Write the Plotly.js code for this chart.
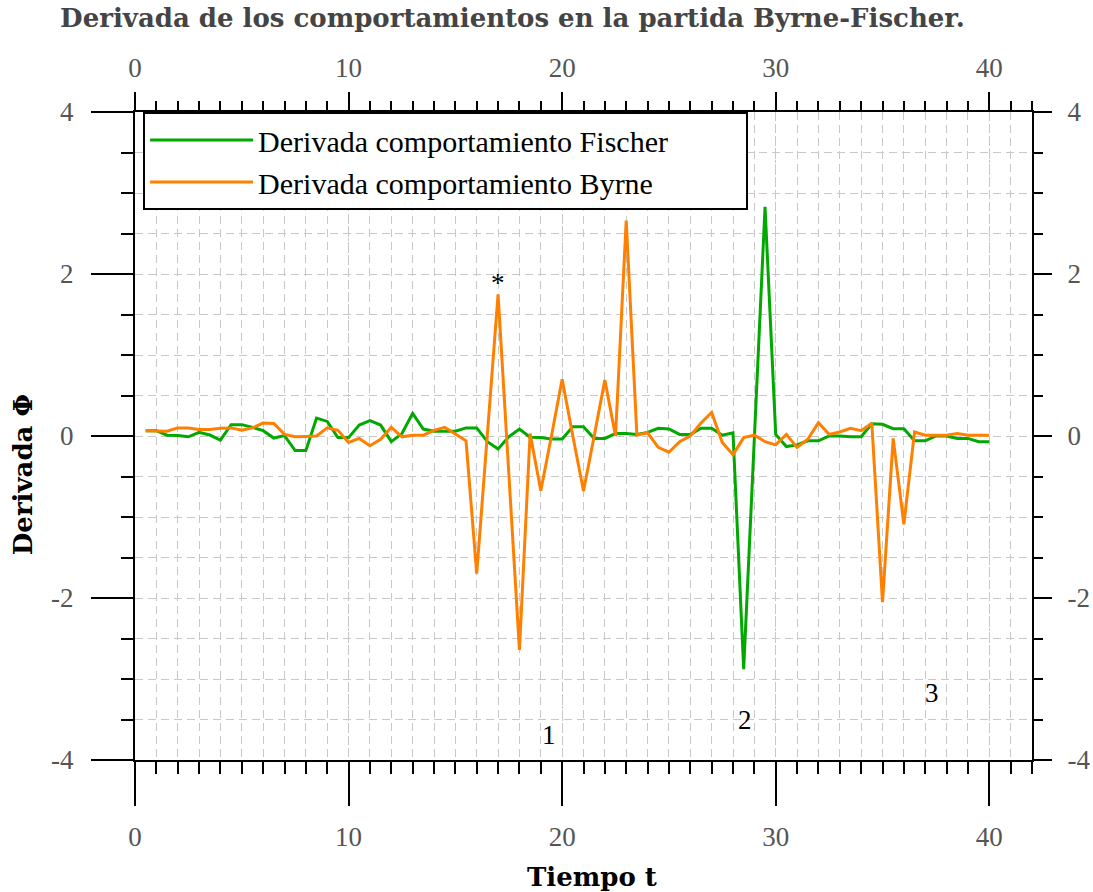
<!DOCTYPE html>
<html>
<head>
<meta charset="utf-8">
<script src="https://cdn.plot.ly/plotly-3.0.1.min.js"></script>
<style>
html,body{margin:0;padding:0;background:#fff;}
#chart{width:1093px;height:892px;}
</style>
</head>
<body>
<div id="chart"></div>
<script>
// Time (t) samples
const tiempo = [0.5,1,1.5,2,2.5,3,3.5,4,4.5,5,5.5,6,6.5,7,7.5,8,8.5,9,9.5,10,
  10.5,11,11.5,12,12.5,13,13.5,14,14.5,15,15.5,16,16.5,17,17.5,18,18.5,19,19.5,20,
  20.5,21,21.5,22,22.5,23,23.5,24,24.5,25,25.5,26,26.5,27,27.5,28,28.5,29,29.5,30,
  30.5,31,31.5,32,32.5,33,33.5,34,34.5,35,35.5,36,36.5,37,37.5,38,38.5,39,39.5,40];

const derivFischer = [0.066,0.066,0.01,0.005,-0.01,0.045,0.012,-0.05,0.14,0.14,
  0.107,0.066,-0.025,0.005,-0.18,-0.18,0.22,0.18,-0.02,-0.02,
  0.135,0.19,0.135,-0.07,0.03,0.28,0.086,0.06,0.06,0.06,
  0.1,0.1,-0.07,-0.16,-0.01,0.086,-0.016,-0.02,-0.037,-0.037,
  0.115,0.115,-0.03,-0.03,0.03,0.03,0.02,0.045,0.095,0.086,
  0.02,0.02,0.095,0.095,0.01,0.04,-2.88,-0.03,2.83,0.02,
  -0.13,-0.11,-0.06,-0.06,0.0,0.0,-0.01,-0.01,0.15,0.145,
  0.09,0.09,-0.06,-0.06,0.0,0.0,-0.03,-0.03,-0.07,-0.07];

const derivByrne = [0.066,0.066,0.06,0.1,0.1,0.08,0.08,0.095,0.1,0.07,
  0.1,0.16,0.155,0.02,-0.01,-0.005,0.0,0.1,0.07,-0.08,
  -0.03,-0.12,-0.04,0.107,-0.01,0.01,0.01,0.07,0.107,0.025,
  -0.06,-1.70,0.02,1.75,-0.45,-2.64,0.03,-0.675,0.0,0.70,
  0.0,-0.68,0.0,0.69,0.0,2.66,0.01,0.04,-0.14,-0.2,
  -0.07,0.0,0.16,0.29,-0.08,-0.23,-0.02,0.01,-0.07,-0.11,
  0.02,-0.14,-0.04,0.165,0.02,0.05,0.095,0.066,0.156,-2.05,
  -0.03,-1.09,0.05,0.01,0.01,0.01,0.03,0.01,0.01,0.01];

const seriesNames = ["Derivada comportamiento Fischer", "Derivada comportamiento Byrne"];
const seriesColors = ["#00a800", "#ff8000"];

// Tick values and labels
const xTickVals = [0, 10, 20, 30, 40];
const xTickText = ["0", "10", "20", "30", "40"];
const yTickVals = [-4, -2, 0, 2, 4];
const yTickText = ["-4", "-2", "0", "2", "4"];

// Text marks placed on the chart
const markLabels = ["*", "1", "2", "3"];
const markX = [17.0, 19.37, 28.55, 37.3];
const markY = [1.89, -3.69, -3.5, -3.17];

const FONT = "Liberation Serif, Times New Roman, serif";
const BOLDFONT = "DejaVu Serif, serif";
const GRID = "#c8c8c8";

const traces = [
  {x: tiempo, y: derivFischer, name: seriesNames[0], mode: "lines",
   line: {color: seriesColors[0], width: 3}},
  {x: tiempo, y: derivByrne, name: seriesNames[1], mode: "lines",
   line: {color: seriesColors[1], width: 3}},
  {x: [], y: [], xaxis: "x2", yaxis: "y2", mode: "lines", showlegend: false, hoverinfo: "skip"}
];

const tickFont = {family: FONT, size: 27, color: "#555"};

const annotations = markLabels.map((t, i) => ({
  x: markX[i], y: markY[i], xref: "x", yref: "y", text: t, showarrow: false,
  font: {family: FONT, size: 27, color: "#000"}
}));
// axis titles
annotations.push({text: "<b>Tiempo t</b>", xref: "paper", yref: "paper",
  x: 0.5095, y: -0.1806, xanchor: "center", yanchor: "middle", showarrow: false,
  font: {family: BOLDFONT, size: 26, color: "#000"}});
annotations.push({text: "<b>Derivada Φ</b>", xref: "paper", yref: "paper", textangle: -90,
  x: -0.1249, y: 0.441, xanchor: "center", yanchor: "middle", showarrow: false,
  font: {family: BOLDFONT, size: 26, color: "#000"}});

const layout = {
  width: 1093, height: 892,
  margin: {l: 135, r: 61, t: 112, b: 132},
  paper_bgcolor: "#fff", plot_bgcolor: "#fff",
  showlegend: true,
  title: {text: "<b>Derivada de los comportamientos en la partida Byrne-Fischer.</b>",
    font: {family: BOLDFONT, size: 26, color: "#444"},
    x: 0.055, xanchor: "left", xref: "container", y: 0.98, yanchor: "middle"},
  xaxis: {
    range: [0, 42], tickmode: "array", tickvals: xTickVals, ticktext: xTickText,
    side: "bottom", anchor: "y",
    showline: true, linecolor: "#000", linewidth: 2, mirror: false,
    ticks: "outside", ticklen: 44, tickwidth: 2, tickcolor: "#000",
    tickfont: tickFont, ticklabelstandoff: 8,
    showgrid: true, gridcolor: GRID, gridwidth: 1, griddash: "3px,3px",
    zeroline: false,
    minor: {dtick: 1, tick0: 0, ticks: "outside", ticklen: 12, tickwidth: 2, tickcolor: "#000",
      showgrid: true, gridcolor: GRID, gridwidth: 1, griddash: "8px,5px"}
  },
  yaxis: {
    range: [-4, 4], tickmode: "array", tickvals: yTickVals, ticktext: yTickText,
    side: "left", anchor: "x",
    showline: true, linecolor: "#000", linewidth: 2,
    ticks: "outside", ticklen: 42, tickwidth: 2, tickcolor: "#000",
    tickfont: tickFont, ticklabelstandoff: 12,
    showgrid: true, gridcolor: GRID, gridwidth: 1, griddash: "8px,5px",
    zeroline: false,
    minor: {dtick: 0.5, tick0: 0, ticks: "outside", ticklen: 12, tickwidth: 2, tickcolor: "#000",
      showgrid: true, gridcolor: GRID, gridwidth: 1, griddash: "8px,5px"}
  },
  xaxis2: {
    range: [0, 42], tickmode: "array", tickvals: xTickVals, ticktext: xTickText,
    side: "top", overlaying: "x", anchor: "y2",
    showline: true, linecolor: "#000", linewidth: 2,
    ticks: "outside", ticklen: 18, tickwidth: 2, tickcolor: "#000",
    tickfont: tickFont, ticklabelstandoff: 4,
    showgrid: false, zeroline: false,
    minor: {dtick: 1, tick0: 0, ticks: "outside", ticklen: 9, tickwidth: 2, tickcolor: "#000", showgrid: false}
  },
  yaxis2: {
    range: [-4, 4], tickmode: "array", tickvals: yTickVals, ticktext: yTickText,
    side: "right", overlaying: "y", anchor: "x2",
    showline: true, linecolor: "#000", linewidth: 2,
    ticks: "outside", ticklen: 18, tickwidth: 2, tickcolor: "#000",
    tickfont: tickFont, ticklabelstandoff: 10,
    showgrid: false, zeroline: false,
    minor: {dtick: 0.5, tick0: 0, ticks: "outside", ticklen: 9, tickwidth: 2, tickcolor: "#000", showgrid: false}
  },
  legend: {
    orientation: "h",
    x: 0.009, y: 1, xanchor: "left", yanchor: "top",
    bgcolor: "#fff", bordercolor: "#000", borderwidth: 2,
    font: {family: FONT, size: 30, color: "#000"},
    itemwidth: 103, entrywidth: 483, tracegroupgap: 0
  },
  annotations: annotations
};

Plotly.newPlot("chart", traces, layout, {displayModeBar: false, staticPlot: true});
</script>
</body>
</html>
